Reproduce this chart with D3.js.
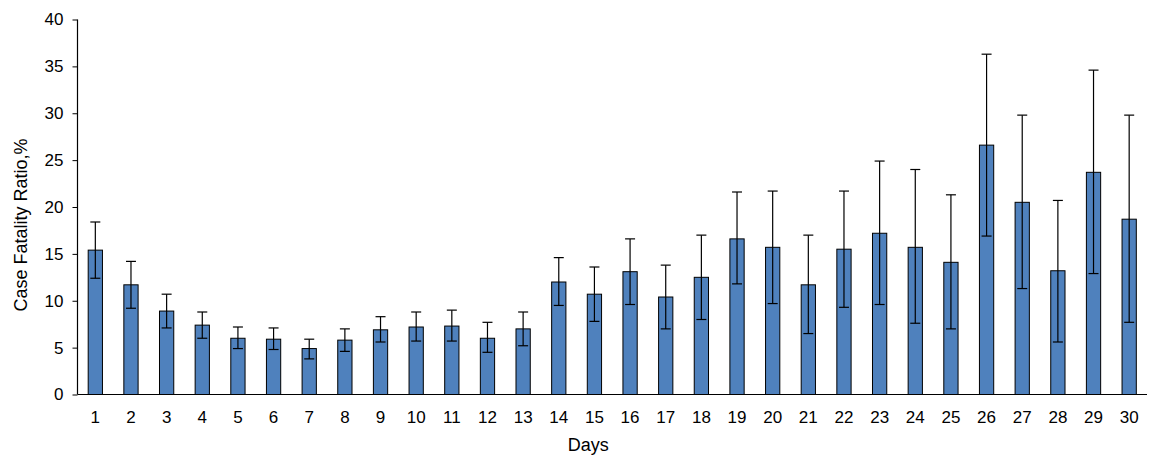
<!DOCTYPE html>
<html>
  <head>
    <title>Case Fatality Ratio</title>
    <script src="https://cdn.jsdelivr.net/npm/d3@7"></script>
    <style>
      html, body { margin: 0; padding: 0; overflow: hidden; background: #fff; }
      svg { display: block; }
      text { font-family: "Liberation Sans", Arial, sans-serif; fill: #000; }
    </style>
  </head>
  <body>
    <svg width="1172" height="469" id="mainsvg"></svg>
    <script>
      const days = d3.range(1, 31).map(String);
      const ratio = [15.4, 11.7, 8.9, 7.4, 6.0, 5.9, 4.9, 5.8, 6.9, 7.2,
                     7.3, 6.0, 7.0, 12.0, 10.7, 13.1, 10.4, 12.5, 16.6, 15.7,
                     11.7, 15.5, 17.2, 15.7, 14.1, 26.6, 20.5, 13.2, 23.7, 18.7];
      const upper = [18.4, 14.2, 10.7, 8.8, 7.2, 7.1, 5.9, 7.0, 8.3, 8.8,
                     9.0, 7.7, 8.8, 14.6, 13.6, 16.6, 13.8, 17.0, 21.6, 21.7,
                     17.0, 21.7, 24.9, 24.0, 21.3, 36.3, 29.8, 20.7, 34.6, 29.8];
      const lower = [12.4, 9.2, 7.1, 6.0, 4.9, 4.8, 3.8, 4.6, 5.6, 5.7,
                     5.7, 4.5, 5.2, 9.5, 7.8, 9.6, 7.0, 8.0, 11.8, 9.7,
                     6.5, 9.3, 9.6, 7.6, 7.0, 16.9, 11.3, 5.6, 12.9, 7.7];
      const yTicks = [0, 5, 10, 15, 20, 25, 30, 35, 40];

      const svg = d3.select("#mainsvg");
      const margin = { top: 19.5, right: 25, bottom: 74.5, left: 77.5 };
      const innerWidth = 1172 - margin.left - margin.right;
      const innerHeight = 469 - margin.top - margin.bottom;

      const g = svg.append("g")
        .attr("transform", `translate(${margin.left}, ${margin.top})`);

      const xScale = d3.scaleBand().domain(days).range([0, innerWidth])
        .paddingInner(0.6).paddingOuter(0.3);
      const yScale = d3.scaleLinear().domain([0, 40]).range([innerHeight, 0]);

      // bars
      g.selectAll(".bar").data(days).join("rect")
        .attr("class", "bar")
        .attr("x", (d) => xScale(d))
        .attr("width", xScale.bandwidth())
        .attr("y", (d, i) => yScale(ratio[i]))
        .attr("height", (d, i) => innerHeight - yScale(ratio[i]))
        .attr("fill", "#4f81bd")
        .attr("stroke", "#000")
        .attr("stroke-width", 1);

      // error bars
      const cap = 5;
      const err = g.selectAll(".err").data(days).join("g")
        .attr("class", "err")
        .attr("transform", (d) => `translate(${xScale(d) + xScale.bandwidth() / 2}, 0)`)
        .attr("stroke", "#000")
        .attr("stroke-width", 1.2);
      err.append("line")
        .attr("y1", (d, i) => yScale(upper[i]))
        .attr("y2", (d, i) => yScale(lower[i]));
      err.append("line")
        .attr("x1", -cap).attr("x2", cap)
        .attr("y1", (d, i) => yScale(upper[i]))
        .attr("y2", (d, i) => yScale(upper[i]));
      err.append("line")
        .attr("x1", -cap).attr("x2", cap)
        .attr("y1", (d, i) => yScale(lower[i]))
        .attr("y2", (d, i) => yScale(lower[i]));

      // axes
      const yAxis = g.append("g")
        .call(d3.axisLeft(yScale).tickValues(yTicks).tickSize(5).tickPadding(9));
      const xAxis = g.append("g")
        .attr("transform", `translate(0, ${innerHeight})`)
        .call(d3.axisBottom(xScale).tickSize(0).tickPadding(16));
      [yAxis, xAxis].forEach((a) => {
        a.select(".domain").attr("stroke", "#000").attr("stroke-width", 1.2);
        a.selectAll(".tick line").attr("stroke", "#000");
        a.selectAll(".tick text").attr("font-size", "17px").attr("font-family", "Liberation Sans, Arial, sans-serif");
      });
      yAxis.select(".domain").attr("d", `M0,${innerHeight}V0`);
      xAxis.select(".domain").attr("d", `M0,0H${innerWidth}`);

      // axis titles
      g.append("text")
        .text("Days")
        .attr("x", innerWidth / 2 - 24)
        .attr("y", innerHeight + 56.5)
        .attr("text-anchor", "middle")
        .attr("font-size", "18px");
      g.append("text")
        .text("Case Fatality Ratio,%")
        .attr("transform", "rotate(-90)")
        .attr("x", -(225 - margin.top))
        .attr("y", -50.5)
        .attr("text-anchor", "middle")
        .attr("font-size", "18px");
    </script>
  </body>
</html>
